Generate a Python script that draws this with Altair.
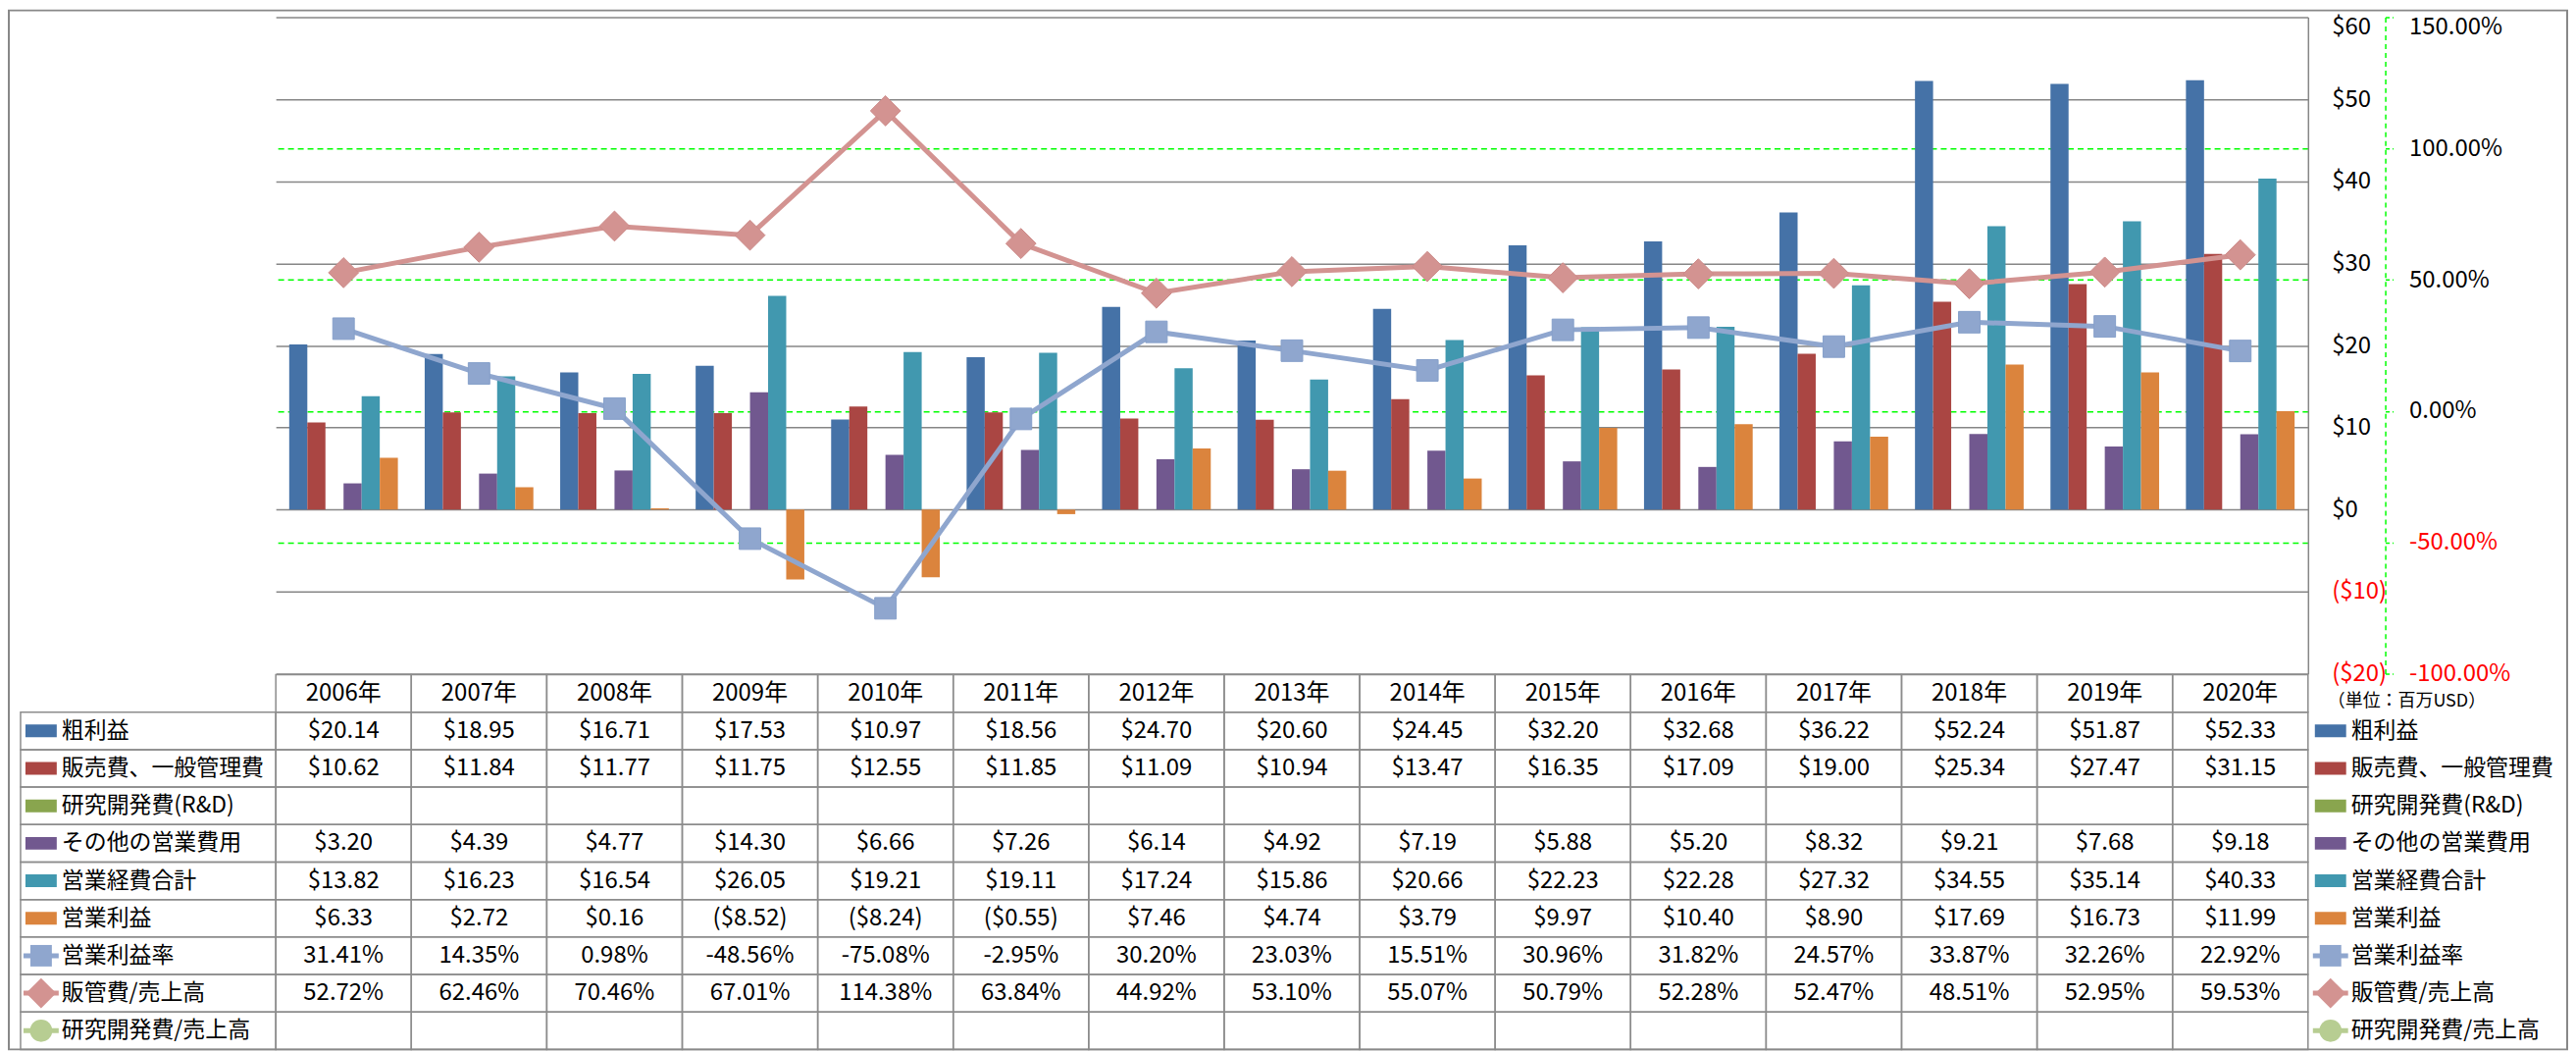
import altair as alt
import pandas as pd

FONT = "Noto Sans CJK JP"

years = [f"{y}年" for y in range(2006, 2021)]

gross_profit = [20.14, 18.95, 16.71, 17.53, 10.97, 18.56, 24.70, 20.60, 24.45, 32.20, 32.68, 36.22, 52.24, 51.87, 52.33]
sga_expense = [10.62, 11.84, 11.77, 11.75, 12.55, 11.85, 11.09, 10.94, 13.47, 16.35, 17.09, 19.00, 25.34, 27.47, 31.15]
other_opex = [3.20, 4.39, 4.77, 14.30, 6.66, 7.26, 6.14, 4.92, 7.19, 5.88, 5.20, 8.32, 9.21, 7.68, 9.18]
total_opex = [13.82, 16.23, 16.54, 26.05, 19.21, 19.11, 17.24, 15.86, 20.66, 22.23, 22.28, 27.32, 34.55, 35.14, 40.33]
op_income = [6.33, 2.72, 0.16, -8.52, -8.24, -0.55, 7.46, 4.74, 3.79, 9.97, 10.40, 8.90, 17.69, 16.73, 11.99]
op_margin_pct = [31.41, 14.35, 0.98, -48.56, -75.08, -2.95, 30.20, 23.03, 15.51, 30.96, 31.82, 24.57, 33.87, 32.26, 22.92]
sga_ratio_pct = [52.72, 62.46, 70.46, 67.01, 114.38, 63.84, 44.92, 53.10, 55.07, 50.79, 52.28, 52.47, 48.51, 52.95, 59.53]

bar_series = ["粗利益", "販売費、一般管理費", "研究開発費(R&D)", "その他の営業費用", "営業経費合計", "営業利益"]
line_series = ["営業利益率", "販管費/売上高", "研究開発費/売上高"]
rows = bar_series + line_series
row_colors = ["#4572A7", "#AA4643", "#89A54E", "#71588F", "#4198AF", "#DB843D",
              "#8FA6CE", "#D39391", "#B7CD92"]

bar_values = {
    "粗利益": gross_profit,
    "販売費、一般管理費": sga_expense,
    "研究開発費(R&D)": [None] * 15,
    "その他の営業費用": other_opex,
    "営業経費合計": total_opex,
    "営業利益": op_income,
}
line_values = {
    "営業利益率": op_margin_pct,
    "販管費/売上高": sga_ratio_pct,
    "研究開発費/売上高": [None] * 15,
}

# ---- data tables ----
bar_rec = []
for s, vals in bar_values.items():
    for y, v in zip(years, vals):
        if v is not None:
            bar_rec.append({"year": y, "series": s, "value": v})
bars_df = pd.DataFrame(bar_rec)

line_rec = []
for s, vals in line_values.items():
    for y, v in zip(years, vals):
        if v is not None:
            line_rec.append({"year": y, "series": s, "value": v / 100.0})
lines_df = pd.DataFrame(line_rec)


def fmt_money(v):
    if v is None:
        return ""
    return f"(${abs(v):.2f})" if v < 0 else f"${v:.2f}"


def fmt_pct(v):
    if v is None:
        return ""
    return f"{v:.2f}%"


cell_rec = []
for y in years:
    cell_rec.append({"year": y, "row": "hdr", "text": y})
for s, vals in bar_values.items():
    for y, v in zip(years, vals):
        cell_rec.append({"year": y, "row": s, "text": fmt_money(v)})
for s, vals in line_values.items():
    for y, v in zip(years, vals):
        cell_rec.append({"year": y, "row": s, "text": fmt_pct(v)})
cells_df = pd.DataFrame(cell_rec)

rows_df = pd.DataFrame({"row": rows})
bar_rows_df = pd.DataFrame({"row": bar_series})
line_rows_df = pd.DataFrame({"row": line_series})
one_df = pd.DataFrame({"a": [0]})

row_domain = ["hdr"] + rows

# ---- shared encodings ----
X = alt.X("year:N", scale=alt.Scale(domain=years, paddingInner=0, paddingOuter=0), axis=None)
color_scale = alt.Scale(domain=rows, range=row_colors)
COLOR = alt.Color("series:N", scale=color_scale, legend=None)
ROWCOLOR = alt.Color("row:N", scale=color_scale, legend=None)

money_axis = alt.Axis(
    orient="right", values=list(range(-20, 61, 10)), title=None,
    labelExpr="datum.value < 0 ? '($' + abs(datum.value) + ')' : '$' + datum.value",
    labelColor=alt.condition("datum.value < 0", alt.value("#FF0000"), alt.value("#000000")),
    labelOffset=alt.condition("datum.value == 60", alt.value(10), alt.value(0)),
    ticks=False, tickSize=0, labelPadding=24,
    domain=True, domainColor="#868686", domainWidth=1.5,
    grid=True, gridColor="#868686", gridWidth=1.5,
    labelFont=FONT, labelFontSize=24, labelBaseline="middle",
)
pct_axis = alt.Axis(
    orient="right", offset=79, values=[-1, -0.5, 0, 0.5, 1, 1.5], title=None,
    labelExpr="(datum.value < 0 ? '-' : '') + format(abs(datum.value) * 100, '.2f') + '%'",
    labelColor=alt.condition("datum.value < 0", alt.value("#FF0000"), alt.value("#000000")),
    labelOffset=alt.condition("datum.value > 1.4", alt.value(10), alt.value(0)),
    domain=True, domainColor="#00FF00", domainDash=[5, 4], domainWidth=1.5,
    ticks=True, tickColor="#00FF00", tickDash=[4, 3], tickSize=8, tickWidth=1.5,
    labelPadding=16,
    grid=True, gridColor="#00FF00", gridDash=[6, 4], gridWidth=1.5,
    gridOpacity=alt.condition("datum.value > 1.4 || datum.value < -0.9", alt.value(0), alt.value(1)),
    labelFont=FONT, labelFontSize=24, labelBaseline="middle",
)

Y_MONEY = alt.Y("value:Q", scale=alt.Scale(domain=[-20, 60], nice=False), axis=money_axis)
Y_PCT = alt.Y("value:Q", scale=alt.Scale(domain=[-1, 1.5], nice=False, zero=False), axis=pct_axis)
Y_ROW = alt.Y("row:N", scale=alt.Scale(domain=row_domain, range=[672, 1055], paddingInner=0, paddingOuter=0), axis=None)

# ---- plot: bars ----
bars = alt.Chart(bars_df).mark_bar().encode(
    x=X,
    xOffset=alt.XOffset("series:N", scale=alt.Scale(domain=bar_series, paddingInner=0, paddingOuter=0.74)),
    y=Y_MONEY,
    color=COLOR,
)
money_layer = alt.layer(bars)

# ---- plot: lines ----
line = alt.Chart(lines_df).mark_line(strokeWidth=5).encode(
    x=X, y=Y_PCT, color=COLOR, detail="series:N"
)
pts_sq = alt.Chart(lines_df).transform_filter(alt.datum.series == "営業利益率").mark_point(
    shape="square", size=484, filled=True, opacity=1, stroke="#86A0CA", strokeWidth=1
).encode(x=X, y=Y_PCT, color=COLOR)
pts_dia = alt.Chart(lines_df).transform_filter(alt.datum.series == "販管費/売上高").mark_point(
    shape="diamond", size=950, filled=True, opacity=1, stroke="#CC8B89", strokeWidth=1
).encode(x=X, y=Y_PCT, color=COLOR)
pct_layer = alt.layer(line, pts_sq, pts_dia)

# ---- data table ----
GRID = "#8C8C8C"
year_cells = alt.Chart(cells_df).mark_rect(fillOpacity=0, stroke=GRID, strokeWidth=1.5).encode(
    x=X, y=Y_ROW
)
label_cells = alt.Chart(rows_df).mark_rect(fillOpacity=0, stroke=GRID, strokeWidth=1.5).encode(
    x=alt.value(-261), x2=alt.value(0), y=Y_ROW
)
cell_text = alt.Chart(cells_df).mark_text(font=FONT, fontSize=24, align="center", baseline="middle", color="#000000").encode(
    x=X, y=Y_ROW, text="text:N"
)
label_text = alt.Chart(rows_df).mark_text(font=FONT, fontSize=23, align="left", baseline="middle", color="#000000").encode(
    x=alt.value(-219), y=Y_ROW, text="row:N"
)
legend_text = alt.Chart(rows_df).mark_text(font=FONT, fontSize=23, align="left", baseline="middle", color="#000000").encode(
    x=alt.value(2122), y=Y_ROW, text="row:N"
)
KEY_PATH = "M-1,-0.406H1V0.406H-1Z"


def bar_keys(xpos):
    return alt.Chart(bar_rows_df).mark_point(shape=KEY_PATH, size=1024, filled=True, opacity=1, strokeWidth=0).encode(
        x=alt.value(xpos), y=Y_ROW, color=ROWCOLOR
    )


def line_keys(xc):
    rule = alt.Chart(line_rows_df).mark_rule(strokeWidth=5).encode(
        x=alt.value(xc - 18), x2=alt.value(xc + 18), y=Y_ROW, color=ROWCOLOR
    )
    sq = alt.Chart(line_rows_df).transform_filter(alt.datum.row == "営業利益率").mark_point(
        shape="square", size=484, filled=True, opacity=1).encode(x=alt.value(xc), y=Y_ROW, color=ROWCOLOR)
    dia = alt.Chart(line_rows_df).transform_filter(alt.datum.row == "販管費/売上高").mark_point(
        shape="diamond", size=950, filled=True, opacity=1).encode(x=alt.value(xc), y=Y_ROW, color=ROWCOLOR)
    cir = alt.Chart(line_rows_df).transform_filter(alt.datum.row == "研究開発費/売上高").mark_point(
        shape="circle", size=520, filled=True, opacity=1).encode(x=alt.value(xc), y=Y_ROW, color=ROWCOLOR)
    return [rule, sq, dia, cir]


unit_text = alt.Chart(one_df).mark_text(font=FONT, fontSize=18, align="left", baseline="middle", color="#000000").encode(
    x=alt.value(2098), y=alt.value(700), text=alt.value("（単位：百万USD）")
)
border = alt.Chart(one_df).mark_rect(fillOpacity=0, stroke="#888888", strokeWidth=2).encode(
    x=alt.value(-273), x2=alt.value(2343), y=alt.value(-7), y2=alt.value(1055)
)

table_layer = alt.layer(
    year_cells, label_cells, cell_text, label_text, legend_text,
    bar_keys(-240), bar_keys(2101),
    *line_keys(-240), *line_keys(2101),
    unit_text, border,
)

chart = alt.layer(money_layer, pct_layer, table_layer).resolve_scale(
    y="independent"
).properties(
    width=2078, height=671, padding=0, background="white"
).configure_view(strokeWidth=0)

chart.save("out.html", embed_options={"renderer": "svg", "actions": False})
